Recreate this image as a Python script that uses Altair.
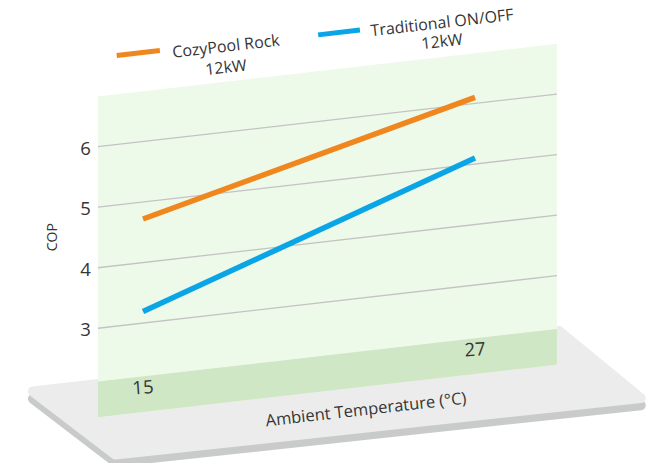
import altair as alt
import pandas as pd

# ---------------- data ----------------
series = ["CozyPool Rock 12kW", "Traditional ON/OFF 12kW"]
temps = [15, 27]
cozy_cop = [4.72, 6.10]
trad_cop = [3.19, 5.10]
colors = ["#f0861e", "#0aa5e6"]

y_ticks = [3, 4, 5, 6]
x_ticks = [15, 27]
x_tick_labels = ["15", "27"]

legend_title_1 = ["CozyPool Rock", "12kW"]
legend_title_2 = ["Traditional ON/OFF", "12kW"]

x_title = "Ambient Temperature (°C)"
y_title = "COP"

# perspective skew: COP units per degree
K = 0.0524
T0 = 15

# back panel (in temperature / COP units)
panel_t = [13.37, 29.96]
panel_top = 6.83
panel_bottom = 1.53
band_top = 2.12

# platform (temperature / COP units)
platform_t = [11.02, 14.0, 30.04, 32.99]
platform_top = [2.08, 2.08, 2.08, 0.82]
platform_bot = [2.08, 0.88, 0.83, 0.82]
shadow_drop = 0.12

FONT = "Open Sans"
TEXT = "#353535"

xs = alt.Scale(domain=[10.1205, 33.650], nice=False, zero=False)
ys = alt.Scale(domain=[0.6887, 8.2058], nice=False, zero=False)


def X():
    return alt.X("t:Q", scale=xs, axis=None)


def Y(f="y"):
    return alt.Y(f + ":Q", scale=ys, axis=None)


def skew(expr_field):
    return f"datum.{expr_field} + {K}*(datum.t - {T0})"


# ---------------- platform ----------------
plat_df = pd.DataFrame({"t": platform_t, "top": platform_top, "bot": platform_bot})

shadow = (
    alt.Chart(plat_df)
    .transform_calculate(y=skew("top") + f" - {shadow_drop}", y2=skew("bot") + f" - {shadow_drop}")
    .mark_area(color="#c9caca", stroke="#c9caca", strokeWidth=10, strokeJoin="round")
    .encode(x=X(), y=Y(), y2="y2:Q")
)
platform = (
    alt.Chart(plat_df)
    .transform_calculate(y=skew("top"), y2=skew("bot"))
    .mark_area(color="#ececec", stroke="#ececec", strokeWidth=10, strokeJoin="round")
    .encode(x=X(), y=Y(), y2="y2:Q")
)

# ---------------- panel ----------------
panel_df = pd.DataFrame({"t": panel_t, "top": [panel_top] * 2, "bot": [panel_bottom] * 2})
panel = (
    alt.Chart(panel_df)
    .transform_calculate(y=skew("top"), y2=skew("bot"))
    .mark_area(color="#eefae9")
    .encode(x=X(), y=Y(), y2="y2:Q")
)
band_df = pd.DataFrame({"t": panel_t, "top": [band_top] * 2, "bot": [panel_bottom] * 2})
band = (
    alt.Chart(band_df)
    .transform_calculate(y=skew("top"), y2=skew("bot"))
    .mark_area(color="#cfe7c4")
    .encode(x=X(), y=Y(), y2="y2:Q")
)

# ---------------- grid ----------------
grid_df = pd.DataFrame(
    [{"t": t, "v": v} for v in y_ticks for t in panel_t]
)
grid = (
    alt.Chart(grid_df)
    .transform_calculate(y=skew("v"))
    .mark_line(color="#c3c3c3", strokeWidth=1.3)
    .encode(x=X(), y=Y(), detail="v:N")
)

# ---------------- series ----------------
line_rows = []
for s, vals in zip(series, [cozy_cop, trad_cop]):
    for t, v in zip(temps, vals):
        line_rows.append({"series": s, "t": t, "v": v})
line_df = pd.DataFrame(line_rows)
color = alt.Color("series:N", scale=alt.Scale(domain=series, range=colors), legend=None)
lines = (
    alt.Chart(line_df)
    .transform_calculate(y=skew("v"))
    .mark_line(strokeWidth=5.5, strokeCap="butt")
    .encode(x=X(), y=Y(), color=color, detail="series:N")
)

# ---------------- legend (drawn in the plane) ----------------
sw_df = pd.DataFrame(
    [
        {"series": series[0], "t": 14.05, "v": 7.47},
        {"series": series[0], "t": 15.61, "v": 7.47},
        {"series": series[1], "t": 21.33, "v": 7.43},
        {"series": series[1], "t": 22.84, "v": 7.43},
    ]
)
swatches = (
    alt.Chart(sw_df)
    .transform_calculate(y=skew("v"))
    .mark_line(strokeWidth=5, strokeCap="butt")
    .encode(x=X(), y=Y(), color=color, detail="series:N")
)
leg_df = pd.DataFrame(
    [
        {"label": legend_title_1[0], "t": 18.0, "v": 7.41},
        {"label": legend_title_1[1], "t": 18.0, "v": 7.06},
        {"label": legend_title_2[0], "t": 25.81, "v": 7.39},
        {"label": legend_title_2[1], "t": 25.81, "v": 7.08},
    ]
)
legend_text = (
    alt.Chart(leg_df)
    .transform_calculate(y=skew("v"))
    .mark_text(font=FONT, fontSize=16, color=TEXT, angle=353.5, align="center", baseline="middle")
    .encode(x=X(), y=Y(), text="label:N")
)

# ---------------- axis labels ----------------
yl_df = pd.DataFrame({"t": [panel_t[0]] * len(y_ticks), "v": y_ticks, "label": [str(v) for v in y_ticks]})
y_labels = (
    alt.Chart(yl_df)
    .transform_calculate(y=skew("v"))
    .mark_text(font=FONT, fontSize=18.5, color=TEXT, align="right", baseline="middle", dx=-7, dy=2)
    .encode(x=X(), y=Y(), text="label:N")
)
xl_df = pd.DataFrame({"t": x_ticks, "v": [1.93] * len(x_ticks), "label": x_tick_labels})
x_labels = (
    alt.Chart(xl_df)
    .transform_calculate(y=skew("v"))
    .mark_text(font=FONT, fontSize=18.5, color=TEXT, align="center", baseline="middle", angle=356)
    .encode(x=X(), y=Y(), text="label:N")
)
yt_df = pd.DataFrame({"t": [11.75], "v": [4.59], "label": [y_title]})
y_title_mark = (
    alt.Chart(yt_df)
    .transform_calculate(y=skew("v"))
    .mark_text(font=FONT, fontSize=14, color=TEXT, align="center", baseline="middle", angle=270)
    .encode(x=X(), y=Y(), text="label:N")
)
xt_df = pd.DataFrame({"t": [23.06], "v": [1.142], "label": [x_title]})
x_title_mark = (
    alt.Chart(xt_df)
    .transform_calculate(y=skew("v"))
    .mark_text(font=FONT, fontSize=16.5, color=TEXT, align="center", baseline="middle", angle=353.5)
    .encode(x=X(), y=Y(), text="label:N")
)

chart = (
    alt.layer(
        shadow, platform, panel, band, grid, lines, swatches, legend_text,
        y_labels, x_labels, y_title_mark, x_title_mark,
    )
    .properties(width=651, height=455, autosize="none", padding=0, background="white")
    .configure_view(stroke=None)
)

chart.save("out.html", embed_options={"renderer": "svg", "actions": False})
